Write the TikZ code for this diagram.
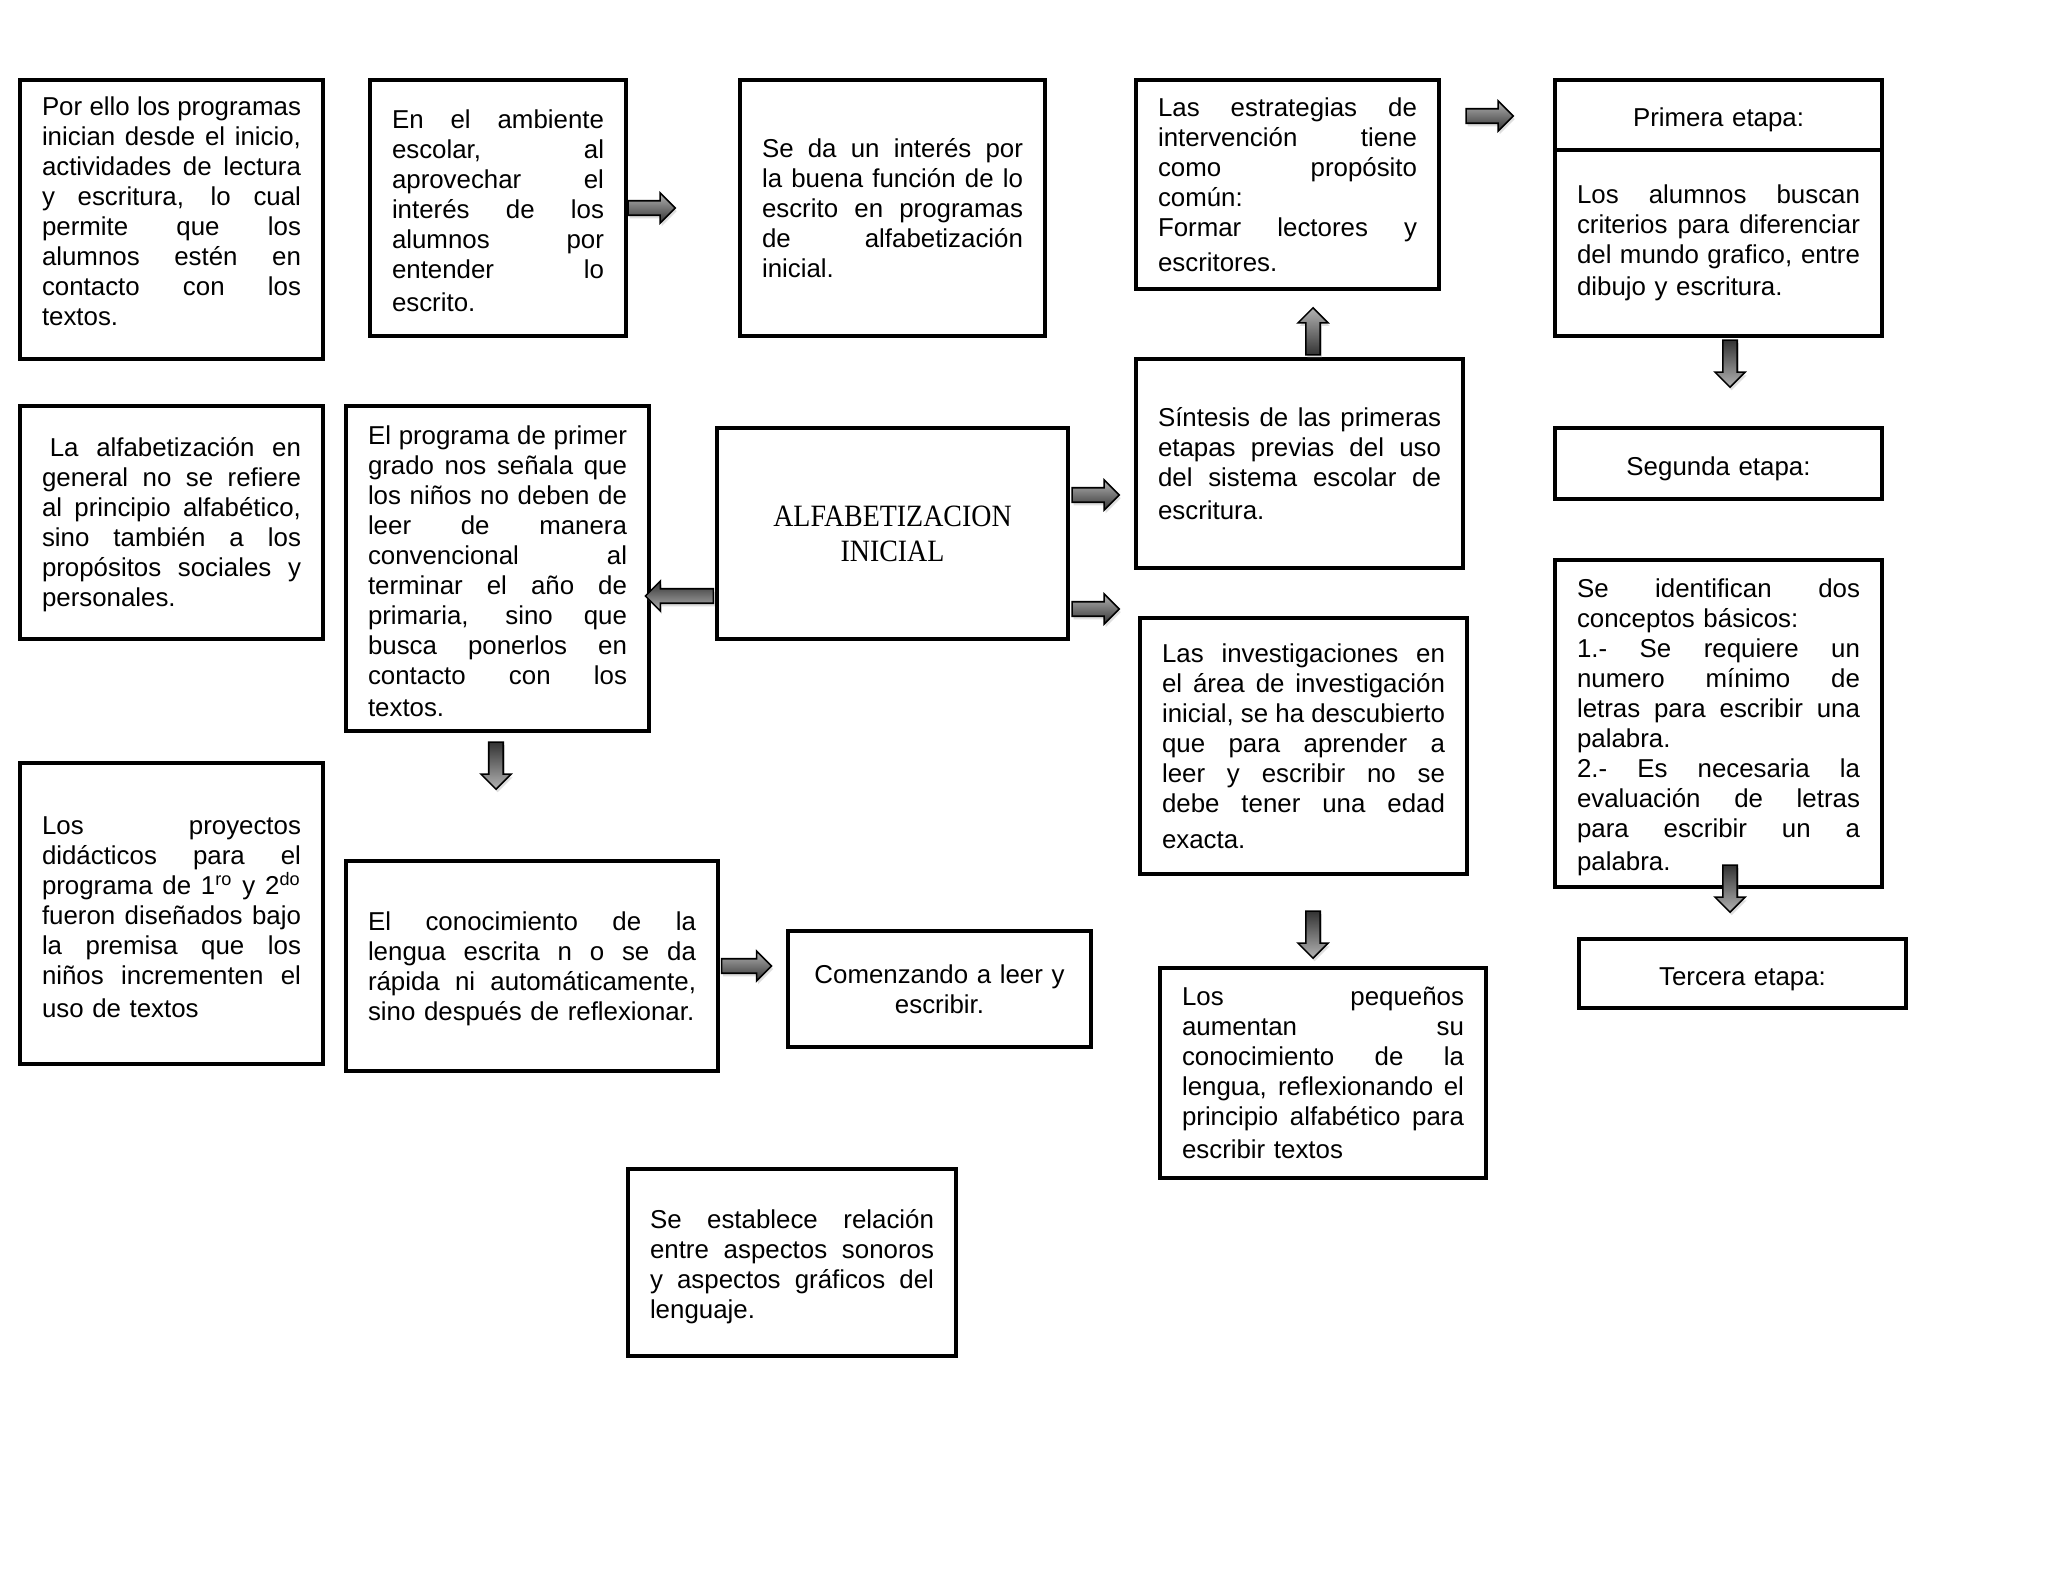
\documentclass[tikz,border=0pt]{standalone}
\usepackage{fontspec}
\setmainfont{Liberation Sans}
\newfontfamily\alfafont[FakeStretch=0.9]{Liberation Serif}
\usetikzlibrary{shapes.arrows,shadows}
\newcommand\jl[1]{\hbox to \bxt pt{\spaceskip=0.278em plus 1fil minus 0.06em\relax #1}\par}
\newcommand\lastl[1]{\hbox{#1}\par}
\newcommand\bx[7][]{%
 \pgfmathsetmacro\bxw{(#5-#3)*0.38672}%
 \pgfmathsetmacro\bxh{(#6-#4)*0.38672}%
 \pgfmathsetmacro\bxt{(#5-#3-44)*0.38672}%
 \pgfmathsetmacro\bxx{(#3+#5)/2}%
 \pgfmathsetmacro\bxy{(#4+#6)/2}%
 \node[box,minimum width=\bxw pt,minimum height=\bxh pt,text width=\bxt pt,#1] (#2) at (\bxx,\bxy) {#7};}
\tikzset{
 box/.style={draw=black, line width=1.5pt, fill=white, inner ysep=0pt, inner xsep=2pt,
   font=\fontsize{10}{11.6}\selectfont},
 onel/.style={align=center, text height=9pt, text depth=0pt},
 blockarrow/.style={single arrow, draw=black, line width=0.6pt, inner sep=0pt,
   text height=2.5pt, text depth=2.5pt, single arrow head extend=3pt,
   drop shadow={shadow xshift=0.6pt, shadow yshift=-1.2pt, opacity=0.25}},
 arrR/.style={blockarrow, minimum height=#1, top color=black!30, bottom color=black!80},
 arrR/.default=18.2pt,
 arrL/.style={blockarrow, minimum height=#1, rotate=180, top color=black!80, bottom color=black!30},
 arrL/.default=18.2pt,
 arrU/.style={blockarrow, minimum height=#1, rotate=90, top color=black!30, bottom color=black!80},
 arrU/.default=18.2pt,
 arrD/.style={blockarrow, minimum height=#1, rotate=-90, top color=black!80, bottom color=black!30},
 arrD/.default=18.2pt,
}
\begin{document}
\begin{tikzpicture}[x=0.38672pt,y=-0.38672pt]
\useasboundingbox[fill=white] (0,0) rectangle (2048,1582);

\bx{b1}{20}{80}{323}{359}{%
\jl{Por ello los programas}
\jl{inician desde el inicio,}
\jl{actividades de lectura}
\jl{y escritura, lo cual}
\jl{permite que los}
\jl{alumnos estén en}
\jl{contacto con los}
\lastl{textos.}\kern6pt}

\bx{b2}{370}{80}{626}{336}{%
\jl{En el ambiente}
\jl{escolar, al}
\jl{aprovechar el}
\jl{interés de los}
\jl{alumnos por}
\jl{entender lo}
\vspace{1pt}
\lastl{escrito.}\kern-2pt}

\bx{b3}{740}{80}{1045}{336}{%
\jl{Se da un interés por}
\jl{la buena función de lo}
\jl{escrito en programas}
\jl{de alfabetización}
\lastl{inicial.}}

\bx{b4}{1136}{80}{1439}{289}{%
\jl{Las estrategias de}
\jl{intervención tiene}
\jl{como propósito}
\lastl{común:}
\jl{Formar lectores y}
\vspace{2pt}
\lastl{escritores.}}

\bx[onel]{p1}{1555}{80}{1882}{150}{Primera etapa:}

\bx{p1b}{1555}{150}{1882}{336}{%
\jl{Los alumnos buscan}
\jl{criterios para diferenciar}
\jl{del mundo grafico, entre}
\vspace{1pt}
\lastl{dibujo y escritura.}}

\bx{b6}{20}{406}{323}{639}{%
\jl{\kern3pt La alfabetización en}
\jl{general no se refiere}
\jl{al principio alfabético,}
\jl{sino también a los}
\jl{propósitos sociales y}
\lastl{personales.}\kern-2pt}

\bx{b7}{346}{406}{649}{731}{%
\jl{El programa de primer}
\jl{grado nos señala que}
\jl{los niños no deben de}
\jl{leer de manera}
\jl{convencional al}
\jl{terminar el año de}
\jl{primaria, sino que}
\jl{busca ponerlos en}
\jl{contacto con los}
\vspace{1pt}
\lastl{textos.}\kern-2pt}

\bx[align=center,font=\alfafont\fontsize{12}{13.6}\selectfont]{alfa}{717}{428}{1068}{639}{ALFABETIZACION\\INICIAL}

\bx{sint}{1136}{359}{1463}{568}{%
\jl{Síntesis de las primeras}
\jl{etapas previas del uso}
\jl{del sistema escolar de}
\vspace{1pt}
\lastl{escritura.}}

\bx[onel]{seg}{1555}{428}{1882}{499}{Segunda etapa:}

\bx{inv}{1140}{618}{1467}{874}{%
\jl{Las investigaciones en}
\jl{el área de investigación}
\jl{inicial, se ha descubierto}
\jl{que para aprender a}
\jl{leer y escribir no se}
\jl{debe tener una edad}
\vspace{2.5pt}
\lastl{exacta.}}

\bx{b12}{1555}{560}{1882}{887}{%
\jl{Se identifican dos}
\lastl{conceptos básicos:}
\jl{1.- Se requiere un}
\jl{numero mínimo de}
\jl{letras para escribir una}
\lastl{palabra.}
\jl{2.- Es necesaria la}
\jl{evaluación de letras}
\jl{para escribir un a}
\vspace{1.2pt}
\lastl{palabra.}\kern-3pt}

\bx{b13}{20}{763}{323}{1064}{%
\jl{Los proyectos}
\jl{didácticos para el}
\jl{programa de 1\textsuperscript{ro} y 2\textsuperscript{do}}
\jl{fueron diseñados bajo}
\jl{la premisa que los}
\jl{niños incrementen el}
\vspace{1pt}
\lastl{uso de textos}\kern-3pt}

\bx{b14}{346}{861}{718}{1071}{%
\jl{El conocimiento de la}
\jl{lengua escrita n o se da}
\jl{rápida ni automáticamente,}
\lastl{sino después de reflexionar.}\kern-2pt}

\bx[align=center]{com}{788}{931}{1091}{1047}{Comenzando a leer y\\escribir.}

\bx{peq}{1160}{968}{1486}{1178}{%
\jl{Los pequeños}
\jl{aumentan su}
\jl{conocimiento de la}
\jl{lengua, reflexionando el}
\jl{principio alfabético para}
\vspace{1pt}
\lastl{escribir textos}}

\bx[onel]{ter}{1579}{939}{1906}{1008}{Tercera etapa:}

\bx{est}{628}{1169}{956}{1356}{%
\jl{Se establece relación}
\jl{entre aspectos sonoros}
\jl{y aspectos gráficos del}
\lastl{lenguaje.}\kern-3pt}

% block arrows
\node[arrR] (a1) at (648,208) {};
\node[arrR] (a2) at (1486,116) {};
\node[arrU] (a3) at (1313,335) {};
\node[arrD] (a4) at (1730,360) {};
\node[arrR] (a5) at (1092,495) {};
\node[arrR] (a6) at (1092,609) {};
\node[arrL=26.3pt] (a7) at (683,596) {};
\node[arrD] (a8) at (496,762) {};
\node[arrR=19.3pt] (a9) at (743,966) {};
\node[arrD] (a10) at (1313,931) {};
\node[arrD] (a11) at (1730,885) {};
\end{tikzpicture}
\end{document}
